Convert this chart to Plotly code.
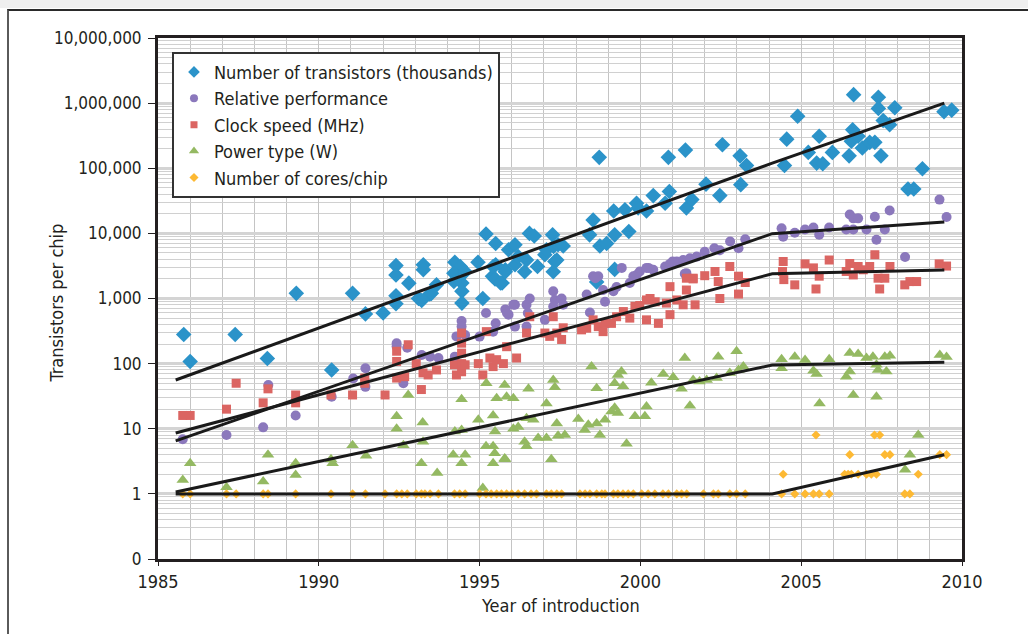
import plotly.graph_objects as go

# ---------------- data ----------------
tr_year = [1985.8, 1986.0, 1987.4, 1988.4, 1989.3, 1990.4, 1991.05, 1991.45, 1992.0,
           1992.4, 1992.4, 1992.4, 1992.4, 1992.8, 1993.25, 1993.25, 1993.1, 1993.45, 1993.2,
           1993.66, 1993.5, 1994.23, 1994.4, 1994.2, 1994.55, 1994.45, 1994.45, 1994.45, 1994.2,
           1994.95, 1995.1, 1995.2, 1995.5, 1995.9, 1996.1, 1995.5, 1995.4, 1995.7, 1995.8, 1996.1,
           1995.42, 1995.48, 1995.65, 1995.8, 1996.2, 1996.4, 1996.46, 1996.55, 1996.7, 1996.8,
           1997.03, 1997.08, 1997.27, 1997.3, 1997.34, 1997.29, 1997.44, 1997.6, 1997.4,
           1998.53, 1998.42, 1998.74, 1998.95, 1999.17, 1999.52, 1999.2, 1999.64, 1999.88, 1999.93,
           2000.19, 2000.4, 2000.77, 2000.9, 2001.43, 2001.6, 1998.72, 2000.87, 2001.4, 1999.2, 1998.64,
           2002.04, 2002.47, 2002.55, 2003.1, 2003.3, 2003.12, 2004.48, 2004.55, 2004.89,
           2005.22, 2005.48, 2005.67, 2005.56, 2005.97, 2006.49, 2006.6, 2006.63, 2006.56, 2006.77,
           2006.9, 2007.13, 2007.29, 2007.48, 2007.4, 2007.4, 2007.91, 2007.55, 2007.75,
           2008.32, 2008.5, 2008.77, 2009.44, 2009.68]
tr_val = [280, 108, 280, 120, 1200, 80, 1200, 580, 600,
          3200, 2300, 1100, 830, 1720, 3300, 2760, 1000, 1170, 930,
          1620, 1200, 3600, 3100, 2450, 2570, 1730, 1290, 850, 1820,
          3600, 1000, 9800, 7000, 5600, 6700, 3300, 2200, 1730, 2760, 3300,
          3100, 2000, 1730, 2570, 4400, 2570, 3900, 10000, 9100, 3100,
          4700, 5600, 9500, 6300, 3700, 2570, 6700, 6400, 3900,
          16000, 9500, 6400, 7000, 22000, 23000, 9500, 10700, 29000, 24500,
          22000, 38000, 29000, 44000, 24500, 33000, 147000, 147000, 190000, 2800, 1800,
          57000, 38000, 230000, 155000, 110000, 56000, 110000, 280000, 630000,
          175000, 120000, 117000, 310000, 175000, 155000, 390000, 1350000, 260000, 310000,
          205000, 250000, 250000, 155000, 1230000, 830000, 850000, 540000, 465000,
          48000, 48000, 98000, 740000, 780000]

perf_year = [1985.77, 1987.13, 1988.27, 1988.43, 1989.28, 1990.4, 1991.07, 1991.45, 1991.45,
             1992.42, 1992.42, 1992.63, 1992.75, 1993.2, 1993.46, 1993.72, 1994.23, 1994.44, 1994.44,
             1994.28, 1994.55, 1995.0, 1995.2, 1995.5, 1995.8, 1995.9, 1996.1, 1996.1, 1995.42,
             1995.85, 1996.05, 1996.46, 1996.56, 1996.5, 1996.46, 1997.03, 1997.29, 1997.34, 1997.55,
             1997.6, 1997.29, 1998.33, 1998.43, 1998.53, 1998.69, 1998.84, 1998.9, 1999.16, 1999.26,
             1999.42, 1999.67, 1999.88, 1999.98, 2000.25, 2000.4, 2000.77, 2000.92, 2001.13, 2001.33,
             2001.54, 2001.75, 2001.43, 1999.78, 2000.19, 2001.0, 2001.38, 1998.6,
             2002.0, 2002.3, 2002.47, 2002.79, 2003.05, 2003.26,
             2004.39, 2004.44, 2004.8, 2005.12, 2005.38, 2005.56, 2005.87,
             2006.51, 2006.62, 2006.77, 2006.4, 2006.62, 2007.03, 2007.29, 2007.34, 2007.6, 2007.75,
             2008.23, 2009.3, 2009.52]
perf_val = [6.9, 8.0, 10.5, 47, 16, 31, 59, 85, 44,
            206, 183, 50, 175, 136, 128, 122, 128, 450, 370,
            262, 275, 260, 600, 415, 680, 565, 800, 370, 310,
            600, 800, 800, 1000, 600, 370, 470, 1290, 950, 1000,
            800, 755, 1150, 610, 2200, 2200, 1350, 890, 1290, 1500,
            2950, 1730, 2300, 2600, 2950, 2760, 3100, 3400, 3700, 3900,
            4150, 4400, 2450, 2200, 2950, 3700, 2400, 2050,
            5200, 5900, 5500, 7500, 5900, 8100,
            12000, 8900, 10200, 11500, 12300, 9500, 12300,
            19500, 17000, 17000, 11500, 11500, 11500, 18000, 8000, 11500, 22500,
            4350, 33000, 17800]

clk_year = [1985.77, 1986.0, 1987.13, 1987.43, 1988.27, 1988.42, 1989.28, 1989.28, 1990.38,
            1991.05, 1991.43, 1991.43, 1992.06, 1992.42, 1992.42, 1992.78, 1992.42, 1992.67,
            1993.03, 1993.19, 1993.24, 1993.4, 1993.66, 1994.22, 1994.28, 1994.44, 1994.44,
            1994.44, 1994.44, 1994.44, 1994.55, 1994.96, 1995.1, 1995.21, 1995.32, 1995.42,
            1995.53, 1995.74, 1995.84, 1996.15, 1996.56, 1996.46, 1997.29, 1997.03, 1997.18,
            1997.4, 1997.6, 1997.55, 1998.17, 1998.33, 1998.53, 1998.69, 1998.9, 1998.84,
            1999.1, 1999.26, 1999.47, 1999.67, 1999.83, 1999.98, 2000.19, 2000.3, 2000.19,
            2000.46, 2000.56, 2000.81, 2000.92, 2000.92, 2001.13, 2001.33, 2001.43, 2001.64,
            2001.7, 2001.43, 2001.64, 2002.0, 2002.32, 2002.42, 2002.47, 2002.78, 2003.05,
            2003.05, 2003.26, 2004.44, 2004.42, 2004.46, 2004.8, 2005.12, 2005.38, 2005.56,
            2005.46, 2005.87, 2006.4, 2006.51, 2006.62, 2006.77, 2006.93, 2007.13, 2007.29,
            2007.39, 2007.44, 2007.6, 2007.76, 2008.22, 2008.38, 2008.59, 2009.29, 2009.52]
clk_val = [16, 16, 20, 50, 25, 41, 33, 25, 33,
           33, 60, 50, 33, 155, 108, 195, 60, 63,
           100, 40, 72, 67, 80, 96, 67, 295, 206,
           145, 100, 75, 96, 100, 67, 310, 122, 90,
           115, 100, 182, 122, 525, 295, 525, 295, 262,
           295, 355, 235, 330, 350, 470, 370, 415, 310,
           415, 525, 630, 500, 760, 780, 950, 1000, 470,
           890, 415, 850, 1520, 565, 950, 800, 1350, 2050,
           800, 2050, 2000, 2240, 2600, 1820, 1000, 3100, 2200,
           1170, 1760, 3700, 2600, 1950, 1620, 3400, 2950, 2200,
           1400, 3900, 2600, 3450, 2300, 3100, 2760, 3100, 4700,
           2050, 1400, 2050, 3100, 1620, 1820, 1820, 3400, 3150]

pw_year = [1985.77, 1986.0, 1987.13, 1988.27, 1988.42, 1989.28, 1989.28, 1990.38, 1990.43,
           1991.05, 1991.47, 1992.42, 1992.42, 1992.63, 1992.78, 1993.23, 1993.24, 1993.19,
           1993.68, 1994.18, 1994.23, 1994.44, 1994.44, 1994.55, 1994.44, 1994.96, 1995.21,
           1995.1, 1995.2, 1995.42, 1995.47, 1995.42, 1995.78, 1995.42, 1995.48, 1995.53,
           1995.84, 1996.05, 1995.78, 1996.05, 1996.52, 1996.46, 1996.67, 1995.79, 1996.2,
           1996.4, 1996.46, 1996.82, 1997.08, 1997.08, 1997.29, 1997.34, 1997.4, 1997.44,
           1997.65, 1997.23, 1998.07, 1998.27, 1998.38, 1998.64, 1998.74, 1998.9, 1998.48,
           1998.64, 1999.1, 1999.2, 1999.3, 1999.3, 1999.41, 1999.46, 1999.2, 1999.57,
           1999.83, 2000.14, 2000.19, 2000.34, 2000.71, 2001.02, 2001.28, 2001.38, 2001.54,
           2002.06, 2002.42, 2002.78, 2002.99, 2003.2, 2001.64, 2001.84, 2002.37, 2003.05,
           2004.39, 2004.39, 2004.8, 2005.12, 2005.38, 2005.48, 2005.57, 2005.87, 2006.4,
           2006.51, 2006.62, 2006.51, 2006.77, 2007.03, 2007.23, 2007.34, 2007.39, 2007.34,
           2007.6, 2007.65, 2007.76, 2008.23, 2008.38, 2008.64, 2009.31, 2009.52]
pw_val = [1.64, 2.95, 1.26, 1.55, 4.0, 2.95, 1.95, 3.4, 2.95,
          5.6, 3.85, 15.5, 10, 5.6, 33, 12.5, 6.3, 2.95,
          2.1, 4.0, 9.1, 28.5, 9.6, 4.0, 2.95, 13.8, 50,
          1.23, 5.4, 5.4, 4.2, 2.95, 3.5, 16, 9.1, 29.5,
          31, 29.5, 47, 10, 41, 14.5, 13.8, 3.4, 10.6,
          6.3, 5.4, 7.2, 7.2, 24.5, 56, 43.5, 12, 7.8,
          8.0, 3.4, 14.1, 9.6, 11.5, 12, 8.0, 13.8, 90,
          42, 18.4, 21, 17.4, 67, 76, 45, 50, 5.9,
          15.5, 15.5, 22, 51, 69, 62, 41, 122, 22.5,
          56, 128, 72, 155, 90, 56, 53, 60, 80,
          117, 85, 128, 114, 78, 69, 24.5, 117, 63,
          76, 33, 145, 141, 122, 128, 96, 80, 31,
          128, 76, 132, 2.35, 4.0, 8.0, 136, 126]

core_year = [1985.77, 1986.0, 1987.13, 1987.43, 1988.27, 1988.42, 1989.28, 1990.38, 1991.05,
             1991.45, 1992.06, 1992.42, 1992.58, 1992.75, 1993.03, 1993.19, 1993.3, 1993.46,
             1993.72, 1994.22, 1994.38, 1994.55, 1995.0, 1995.2, 1995.36, 1995.53, 1995.68,
             1995.84, 1996.0, 1996.2, 1996.4, 1996.6, 1996.77, 1997.08, 1997.23, 1997.4, 1997.55,
             1998.12, 1998.28, 1998.43, 1998.64, 1998.8, 1998.9, 1999.16, 1999.3, 1999.46,
             1999.62, 1999.78, 2000.04, 2000.24, 2000.45, 2000.7, 2000.87, 2001.13, 2001.28,
             2001.44, 2001.96, 2002.27, 2002.42, 2002.78, 2002.99, 2003.26,
             2004.39, 2004.8, 2005.12, 2005.38, 2005.56, 2005.87, 2008.22, 2008.38,
             2004.44, 2006.35, 2006.46, 2006.56, 2006.77, 2007.03, 2007.18, 2007.34, 2008.64,
             2006.51, 2007.6, 2007.76, 2009.31, 2009.52,
             2005.46, 2007.28, 2007.44]
core_val = [1] * 70 + [2] * 9 + [4] * 5 + [8] * 3

trend_year = [1985.55, 2004.1, 2009.45]
trend_tr = [56, 120000, 1000000]
trend_perf = [6.5, 9900, 15000]
trend_clk = [8.6, 2400, 2750]
trend_pw = [1.07, 95, 105]
trend_core = [1, 1, 4]

y_tick_vals = [0.1, 1, 10, 100, 1e3, 1e4, 1e5, 1e6, 1e7]
y_tick_text = ["0", "1", "10", "100", "1,000", "10,000", "100,000", "1,000,000", "10,000,000"]

# ---------------- figure ----------------
FONT = "DejaVu Sans Condensed, Roboto, Liberation Sans, sans-serif"
TXT = "#231f20"

fig = go.Figure()

series = [
    ("Number of transistors (thousands)", tr_year, tr_val, "diamond", 12, "#2B93C9", 9),
    ("Relative performance", perf_year, perf_val, "circle", 10, "#8B78BC", 8),
    ("Clock speed (MHz)", clk_year, clk_val, "square", 9, "#DB6562", 7),
    ("Power type (W)", pw_year, pw_val, "triangle-up", 11, "#94B962", 9),
    ("Number of cores/chip", core_year, core_val, "diamond", 7, "#FDB933", 7),
]
for name, xs, ys, sym, size, col, lsize in series:
    fig.add_trace(go.Scatter(x=xs, y=ys, mode="markers", name=name, showlegend=False,
                             marker=dict(symbol=sym, size=size, color=col, line=dict(width=0))))

for ys in [trend_tr, trend_perf, trend_clk, trend_pw, trend_core]:
    fig.add_trace(go.Scatter(x=trend_year, y=ys, mode="lines", showlegend=False,
                             line=dict(color="#1a1a1a", width=3), hoverinfo="skip"))

# legend entries (smaller symbols, as in the original legend)
for name, xs, ys, sym, size, col, lsize in series:
    fig.add_trace(go.Scatter(x=[None], y=[None], mode="markers", name=name,
                             marker=dict(symbol=sym, size=lsize, color=col, line=dict(width=0))))

fig.update_layout(
    width=1028, height=634,
    margin=dict(l=158, r=66, t=38, b=75),
    paper_bgcolor="white", plot_bgcolor="white",
    font=dict(family=FONT, size=17, color=TXT),
    showlegend=True,
    legend=dict(x=0.0174, y=0.9737, xanchor="left", yanchor="top",
                bgcolor="white", bordercolor="#333333", borderwidth=2,
                font=dict(size=18), itemsizing="trace", tracegroupgap=0,
                itemwidth=30),
)

fig.update_xaxes(
    range=[1985, 2010], tick0=1985, dtick=5,
    showline=True, linecolor=TXT, linewidth=3, mirror=True,
    showgrid=True, gridcolor="#c4c4c4", gridwidth=1,
    ticks="outside", ticklen=4, tickcolor=TXT,
    tickfont=dict(size=18),
    minor=dict(dtick=1, showgrid=True, gridcolor="#c4c4c4", gridwidth=1),
    zeroline=False,
)
fig.update_yaxes(
    type="log", range=[-1, 7],
    tickmode="array", tickvals=y_tick_vals, ticktext=y_tick_text,
    showline=True, linecolor=TXT, linewidth=3, mirror=True,
    showgrid=True, gridcolor="#d4d4d4", gridwidth=3,
    ticks="outside", ticklen=7, tickcolor=TXT, ticklabelstandoff=3,
    tickfont=dict(size=17),
    minor=dict(dtick="D1", showgrid=True, gridcolor="#d0d0d0", gridwidth=1),
    zeroline=False,
)

# axis titles
fig.add_annotation(text="Year of introduction", xref="paper", yref="paper",
                   x=0.5, y=-0.0883, xanchor="center", yanchor="middle",
                   showarrow=False, font=dict(size=18, color=TXT))
fig.add_annotation(text="Transistors per chip", xref="paper", yref="paper",
                   x=-0.126, y=0.4916, xanchor="center", yanchor="middle", textangle=-90,
                   showarrow=False, font=dict(size=18, color=TXT))

# page frame around the figure (as in the scanned original) drawn with CSS
frame_js = """
document.body.style.margin='0';
document.body.style.overflow='hidden';
var band=document.createElement('div');
band.style.cssText='position:absolute;left:0;top:0;width:1028px;height:8px;background:#efefef;pointer-events:none;';
document.body.appendChild(band);
var fr=document.createElement('div');
fr.style.cssText='position:absolute;left:7px;top:9px;width:1100px;height:700px;box-sizing:border-box;border-top:2px solid #2a2a2a;border-left:2px solid #5a5a5a;pointer-events:none;';
document.body.appendChild(fr);
"""

fig.write_html("out.html", config={"displayModeBar": False}, post_script=frame_js)
